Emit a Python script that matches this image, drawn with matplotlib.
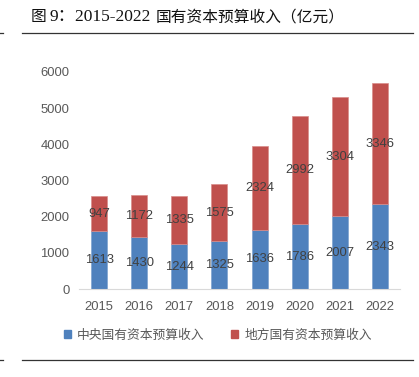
import numpy as np
import matplotlib.pyplot as plt
from matplotlib.lines import Line2D
from matplotlib.patches import Patch

plt.rcParams['font.family'] = ['Noto Sans CJK SC', 'DejaVu Sans']

years = ["2015", "2016", "2017", "2018", "2019", "2020", "2021", "2022"]
central = [1613, 1430, 1244, 1325, 1636, 1786, 2007, 2343]
local = [947, 1172, 1335, 1575, 2324, 2992, 3304, 3346]
series_names = ["中央国有资本预算收入", "地方国有资本预算收入"]
# title pieces: (text, is_latin, x pixel)
title_parts = [("图", False, 31), ("9：2015-2022", True, 49),
               ("国有资本预算收入（亿元）", False, 156)]

blue = "#4F81BD"
red = "#C0504D"
gray = "#595959"
W, H = 419, 377

fig = plt.figure(figsize=(W / 100, H / 100), dpi=100)
ax = fig.add_axes([79 / W, 1 - 289 / H, 321 / W, 217 / H])

x = np.arange(len(years))
ax.bar(x, central, width=0.4, color=blue, edgecolor="#7FA3D0", linewidth=0.5)
ax.bar(x, local, width=0.4, bottom=central, color=red, edgecolor="#D98C8A", linewidth=0.5)

for i in range(len(years)):
    ax.text(x[i], central[i] / 2, str(central[i]), ha="center", va="center",
            fontsize=9.4, color="#404040", family="Liberation Sans")
    ax.text(x[i], central[i] + local[i] / 2, str(local[i]), ha="center", va="center",
            fontsize=9.4, color="#404040", family="Liberation Sans")

ax.set_xlim(-0.5, len(years) - 0.5)
ax.set_ylim(0, 6000)
ax.set_yticks(range(0, 7000, 1000))
ax.set_xticks(x)
ax.set_xticklabels(years)
for s in ["top", "right", "left"]:
    ax.spines[s].set_visible(False)
ax.spines["bottom"].set_color("#D9D9D9")
ax.tick_params(axis="both", length=0, labelsize=9.4, labelcolor=gray)
ax.tick_params(axis="y", pad=7)
ax.tick_params(axis="x", pad=9)
for lab in ax.get_xticklabels() + ax.get_yticklabels():
    lab.set_family("Liberation Sans")

handles = [Patch(color=blue), Patch(color=red)]
fig.legend(handles, series_names, loc="center", bbox_to_anchor=(218 / W, 1 - 335 / H),
           ncol=2, frameon=False, fontsize=9.2, labelcolor=gray,
           handlelength=0.55, handleheight=0.55, handletextpad=0.45, columnspacing=2.1)

for txt, latin, px in title_parts:
    if latin:
        fig.text(px / W, 1 - 17 / H, txt, fontsize=12.5, va="center", ha="left",
                 family=["Liberation Serif", "Noto Sans CJK SC"], color="#111111")
    else:
        fig.text(px / W, 1 - 17 / H, txt, fontsize=11.3, va="center", ha="left",
                 color="#111111")

# header / footer rules
for py in [33, 360]:
    yy = 1 - py / H
    fig.add_artist(Line2D([22 / W, 413 / W], [yy, yy], color="#333333", linewidth=0.9))
    fig.add_artist(Line2D([0.0, 3 / W], [yy, yy], color="#333333", linewidth=0.9))

fig.savefig("out.png", dpi=100)
